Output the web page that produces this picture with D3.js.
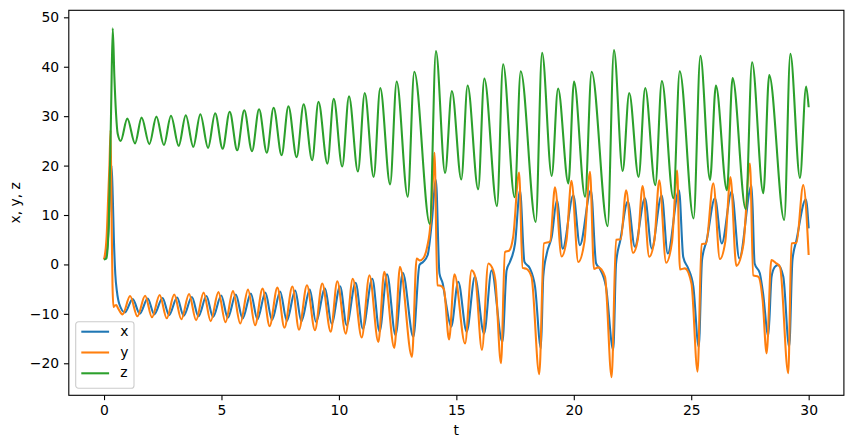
<!DOCTYPE html>
<html>
<head>
<meta charset="utf-8">
<script src="https://cdn.jsdelivr.net/npm/d3@7"></script>
<style>
  html, body { margin: 0; padding: 0; background: #fff; }
  svg text { font-family: "DejaVu Sans", sans-serif; }
</style>
</head>
<body>
<div id="chart"></div>
<script>
// Lorenz-style trajectory, values (turning points + shoulders)
const SERIES_NAMES = ['x', 'y', 'z'];
const COLORS = ['#1f77b4', '#ff7f0e', '#2ca02c'];
const X_TICKS = [0, 5, 10, 15, 20, 25, 30];
const Y_TICKS = [-20, -10, 0, 10, 20, 30, 40, 50];

const xPts = [
  [0, 1.0], [0.11, 2.3], [0.2, 8], [0.26, 15], [0.32, 20], [0.37, 14], [0.42, 5], [0.48, -2],
  [0.55, -5.5], [0.65, -8], [0.89, -9.7],
  [1.22, -7.0], [1.52, -9.95], [1.86, -6.9], [2.14, -10.1], [2.49, -6.8], [2.77, -10.25],
  [3.11, -6.7], [3.39, -10.4], [3.74, -6.6], [4.02, -10.5], [4.36, -6.4], [4.64, -10.65],
  [4.99, -6.3], [5.27, -10.8], [5.61, -6.1], [5.90, -10.95], [6.25, -5.9], [6.53, -11.1],
  [6.87, -5.7], [7.15, -11.25], [7.50, -5.5], [7.78, -11.4], [8.14, -5.3], [8.40, -11.5],
  [8.76, -5.1], [9.02, -11.6], [9.41, -4.9], [9.69, -12.0], [10.05, -4.4], [10.33, -12.3],
  [10.71, -3.7], [11.02, -13.0], [11.42, -2.9], [11.73, -13.6], [12.05, -2.0], [12.41, -14.3],
  [12.72, -1.7], [13.17, -14.7],
  [13.43, -0.1], [13.58, 0.5], [13.78, 1.9], [13.95, 8.3], [14.13, 17.1], [14.28, -1.8],
  [14.42, -3.85], [14.56, -7.9], [14.78, -12.6], [15.08, -3.5], [15.44, -13.6], [15.79, -2.5],
  [16.18, -14.0], [16.50, -1.2], [16.96, -15.7], [17.14, -1.2], [17.28, 0.5], [17.50, 4.25],
  [17.71, 15.0],
  [17.9, 0.5], [18.13, -0.8], [18.35, -4.5], [18.6, -17.0], [18.7, -2.5], [18.85, 2.2],
  [19.06, 5.6], [19.28, 13.0], [19.53, 3.2], [19.98, 14.0], [20.26, 3.9], [20.73, 15.0],
  [20.95, 0.2], [21.1, -0.8], [21.37, -4.5], [21.68, -17.3], [21.8, 0.2], [21.98, 4.9],
  [22.30, 12.7], [22.6, 3.6], [23.03, 13.4], [23.32, 3.2], [23.74, 14.0], [24.0, 2.2],
  [24.48, 15.0], [24.66, 1.5], [24.87, -0.8], [25.09, -4.5], [25.32, -16.7], [25.46, 0.9],
  [25.66, 4.9], [26.01, 13.4], [26.3, 4.25], [26.72, 14.7], [27.05, 1.2], [27.57, 16.0],
  [27.7, 0.2], [27.92, -1.8], [28.06, -5.9], [28.28, -14.5], [28.42, -2.5], [28.56, -0.5],
  [28.7, -0.1], [28.92, -2.5], [29.17, -16.7], [29.31, 0.9], [29.48, 4.9], [29.88, 13.2],
  [30.0, 7.3]
];

const yPts = [
  [0, 1.0], [0.11, 5.6], [0.18, 14], [0.23, 20], [0.28, 27.2], [0.32, 10], [0.36, -4],
  [0.40, -8.6], [0.47, -8.3], [0.52, -8.2], [0.58, -8.7], [0.79, -10.1],
  [1.11, -6.4], [1.42, -10.5], [1.75, -6.35], [2.04, -10.7], [2.37, -6.2], [2.67, -10.9],
  [2.99, -6.1], [3.29, -11.1], [3.62, -6.0], [3.92, -11.3], [4.24, -5.7], [4.54, -11.5],
  [4.87, -5.6], [5.17, -11.7], [5.49, -5.4], [5.80, -11.95], [6.13, -5.1], [6.43, -12.3],
  [6.75, -4.9], [7.05, -12.5], [7.38, -4.7], [7.68, -12.8], [8.02, -4.45], [8.30, -13.2],
  [8.64, -4.2], [8.98, -13.3], [9.29, -3.85], [9.65, -13.6], [9.93, -3.4], [10.29, -14.0],
  [10.59, -2.9], [10.97, -14.8], [11.30, -2.2], [11.68, -15.7], [11.93, -1.5], [12.36, -16.9],
  [12.60, -0.5], [13.11, -18.7],
  [13.31, 1.2], [13.45, 0.8], [13.6, 1.3], [13.76, 3.6], [13.90, 8.3], [14.00, 17.0],
  [14.07, 22.6], [14.19, -4.2], [14.33, -4.3], [14.47, -5.0], [14.69, -15.2], [14.92, -2.0],
  [15.37, -16.0], [15.65, -1.2], [15.80, -2.4], [16.09, -17.3], [16.36, 0.2], [16.57, -1.2],
  [16.66, -3.2], [16.90, -20.0], [17.07, 2.5], [17.25, 2.8], [17.42, 5.6], [17.67, 18.6],
  [17.82, -0.7], [17.99, -0.9], [18.2, -2.5], [18.53, -22.2], [18.73, 4.25], [18.99, 4.6],
  [19.20, 15.6], [19.48, 1.6], [19.69, 4.9], [19.90, 16.9], [20.19, 0.5], [20.45, 4.5],
  [20.69, 18.75], [20.86, -0.9], [21.04, -0.6], [21.33, -2.5], [21.61, -22.8], [21.80, 5.0],
  [22.00, 5.1], [22.23, 15.0], [22.52, 2.3], [22.73, 5.2], [22.93, 15.85], [23.21, 1.55],
  [23.43, 4.8], [23.64, 17.0], [23.93, 0.35], [24.18, 4.5], [24.40, 19.0], [24.52, -1.0],
  [24.73, -0.8], [25.01, -3.85], [25.27, -21.7], [25.44, 4.1], [25.63, 4.25], [25.94, 16.4],
  [26.22, 1.1], [26.45, 4.6], [26.67, 17.7], [26.92, -0.3], [27.22, 4.0], [27.50, 20.4],
  [27.64, -2.2], [27.86, -2.5], [28.04, -7.2], [28.21, -18.0], [28.41, 0.9], [28.6, 0.3],
  [28.78, -0.5], [29.13, -22.0], [29.27, 4.25], [29.48, 4.4], [29.77, 16.05], [30.0, 1.9]
];

const zPts = [
  [0, 1.0], [0.1, 1.2], [0.2, 8], [0.3, 31], [0.37, 47.8], [0.44, 38], [0.51, 30.6],
  [0.58, 26.5], [0.71, 25.0],
  [0.99, 29.5], [1.32, 24.5], [1.60, 29.7], [1.93, 24.35], [2.23, 29.9], [2.55, 24.15],
  [2.85, 30.1], [3.18, 24.0], [3.48, 30.2], [3.80, 23.8], [4.10, 30.4], [4.43, 23.6],
  [4.73, 30.6], [5.05, 23.4], [5.35, 30.9], [5.67, 23.1], [5.97, 31.2], [6.30, 22.9],
  [6.60, 31.4], [6.93, 22.6], [7.22, 31.7], [7.56, 22.1], [7.85, 32.0], [8.20, 21.7],
  [8.50, 32.4], [8.86, 21.1], [9.13, 32.9], [9.51, 20.4], [9.78, 33.5], [10.14, 19.8],
  [10.43, 34.0], [10.81, 18.8], [11.10, 34.7], [11.48, 17.7], [11.76, 35.7], [12.18, 16.2],
  [12.46, 37.0], [12.93, 13.7], [13.21, 39.0], [13.87, 8.2], [14.13, 43.2], [14.52, 18.5],
  [14.81, 35.1], [15.21, 17.2], [15.48, 36.2], [15.93, 15.2], [16.19, 37.6], [16.73, 11.8],
  [16.99, 40.5], [17.48, 13.6], [17.74, 39.1], [18.38, 8.6], [18.65, 42.8], [19.06, 17.9],
  [19.33, 35.6], [19.77, 16.4], [20.01, 37.0], [20.48, 13.7], [20.76, 39.0], [21.44, 7.75],
  [21.71, 43.4], [22.08, 18.9], [22.36, 34.7], [22.76, 17.7], [23.04, 35.7], [23.47, 16.05],
  [23.75, 37.1], [24.24, 13.4], [24.51, 39.1], [25.10, 9.3], [25.39, 42.2], [25.80, 17.1],
  [26.05, 36.2], [26.52, 15.0], [26.76, 37.7], [27.32, 11.2], [27.59, 40.9], [28.07, 14.4],
  [28.32, 38.3], [28.96, 9.0], [29.22, 42.6], [29.63, 17.5], [29.89, 36.0], [30.0, 31.8]
];

const SERIES = [xPts, yPts, zPts];

(function () {
  'use strict';
  const W = 853, H = 448;
  const margin = { top: 10.3, right: 9.1, bottom: 52.7, left: 68.8 };
  const innerW = W - margin.left - margin.right;
  const innerH = H - margin.top - margin.bottom;
  const FS = 13.9;          // 10pt @ 100dpi
  const TICK = 4.86;        // 3.5pt

  const svg = d3.select('#chart').append('svg').attr('width', W).attr('height', H);
  const g = svg.append('g').attr('transform', `translate(${margin.left},${margin.top})`);

  const x = d3.scaleLinear().domain([-1.5, 31.5]).range([0, innerW]);
  const y = d3.scaleLinear().domain([-26.48, 51.42]).range([innerH, 0]);

  g.append('clipPath').attr('id', 'clip')
    .append('rect').attr('width', innerW).attr('height', innerH);

  // Lines
  const line = d3.line().x(d => x(d[0])).y(d => y(d[1])).curve(d3.curveMonotoneX);
  const plot = g.append('g').attr('clip-path', 'url(#clip)');
  SERIES.forEach((pts, i) => {
    plot.append('path').datum(pts)
      .attr('fill', 'none').attr('stroke', COLORS[i]).attr('stroke-width', 2.08)
      .attr('stroke-linejoin', 'round').attr('stroke-linecap', 'butt')
      .attr('d', line);
  });

  // Axes
  const fmt = d3.format('d');
  const ax = g.append('g').attr('transform', `translate(0,${innerH})`)
    .call(d3.axisBottom(x).tickValues(X_TICKS).tickFormat(fmt).tickSize(TICK).tickPadding(4.86));
  const ay = g.append('g')
    .call(d3.axisLeft(y).tickValues(Y_TICKS).tickFormat(fmt).tickSize(TICK).tickPadding(4.86));
  [ax, ay].forEach(a => {
    a.select('.domain').remove();
    a.selectAll('line').attr('stroke', '#000').attr('stroke-width', 1.1);
    a.selectAll('text').attr('fill', '#000').style('font-size', FS + 'px')
      .style('font-family', '"DejaVu Sans", sans-serif');
  });

  // Frame
  g.append('rect').attr('width', innerW).attr('height', innerH)
    .attr('fill', 'none').attr('stroke', '#000').attr('stroke-width', 1.1);

  // Axis labels
  svg.append('text').attr('x', margin.left + innerW / 2).attr('y', 435)
    .attr('text-anchor', 'middle').style('font-size', FS + 'px').text('t');
  svg.append('text')
    .attr('transform', `translate(20,${margin.top + innerH / 2}) rotate(-90)`)
    .attr('text-anchor', 'middle').style('font-size', FS + 'px').text('x, y, z');

  // Legend
  const lg = svg.append('g').attr('transform', 'translate(75.7,321.7)');
  lg.append('rect').attr('width', 58.3).attr('height', 66.6).attr('rx', 2.8)
    .attr('fill', 'rgba(255,255,255,0.8)').attr('stroke', '#cccccc').attr('stroke-width', 1.1);
  SERIES_NAMES.forEach((name, i) => {
    const cy = 10 + i * 20.8;
    lg.append('line').attr('x1', 5.6).attr('x2', 33.4).attr('y1', cy).attr('y2', cy)
      .attr('stroke', COLORS[i]).attr('stroke-width', 2.08);
    lg.append('text').attr('x', 44.5).attr('y', cy + 4.2)
      .style('font-size', FS + 'px').text(name);
  });
})();
</script>
</body>
</html>
